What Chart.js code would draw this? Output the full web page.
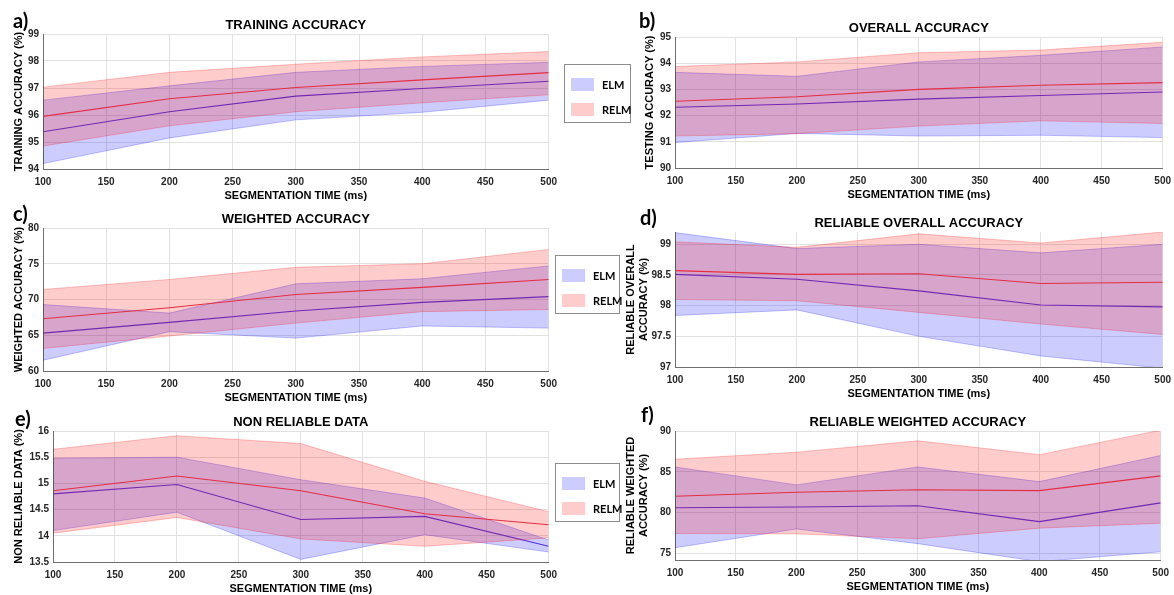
<!DOCTYPE html>
<html>
<head>
<meta charset="utf-8">
<title>ELM vs RELM</title>
<script src="https://cdn.jsdelivr.net/npm/chart.js@4.4.1/dist/chart.umd.min.js"></script>
<style>
    body { margin: 0; background: #fff; }
    .figure { position: relative; width: 1174px; height: 595px; overflow: hidden; }
    .figure canvas { position: absolute; }
    .panel-tag { position: absolute; font: 700 20px/20px Lato, "Open Sans", sans-serif; color: #000; }
    .custom-legend { position: absolute; box-sizing: border-box; background: #fff; border: 1px solid #8c8c8c; z-index: 2; }
    .custom-legend__item { position: absolute; left: 6px; display: flex; align-items: center; height: 14px; }
    .custom-legend__swatch { width: 23px; height: 13px; margin-right: 8px; }
    .custom-legend__label { font: 700 11px Lato, sans-serif; color: #000; }
</style>
</head>
<body>
<div class="figure" id="figure"></div>
<script>
const SEG_TIME = [100, 200, 300, 400, 500];
const X_TICKS = [100, 150, 200, 250, 300, 350, 400, 450, 500];

// a) training accuracy
const TRAIN_ELM = [95.38, 96.12, 96.7, 96.98, 97.25];
const TRAIN_ELM_HI = [96.55, 97.08, 97.58, 97.8, 97.95];
const TRAIN_ELM_LO = [94.2, 95.15, 95.82, 96.1, 96.55];
const TRAIN_RELM = [95.95, 96.6, 97.02, 97.3, 97.57];
const TRAIN_RELM_HI = [97.03, 97.58, 97.88, 98.15, 98.35];
const TRAIN_RELM_LO = [94.85, 95.6, 96.12, 96.45, 96.75];
const TRAIN_TICKS = [94, 95, 96, 97, 98, 99];

// b) overall (testing) accuracy
const TEST_ELM = [92.32, 92.44, 92.63, 92.77, 92.9];
const TEST_ELM_HI = [93.65, 93.5, 94.05, 94.3, 94.62];
const TEST_ELM_LO = [90.97, 91.32, 91.22, 91.25, 91.16];
const TEST_RELM = [92.55, 92.72, 93.0, 93.16, 93.26];
const TEST_RELM_HI = [93.87, 94.05, 94.4, 94.5, 94.8];
const TEST_RELM_LO = [91.22, 91.31, 91.6, 91.8, 91.7];
const TEST_TICKS = [90, 91, 92, 93, 94, 95];

// c) weighted accuracy
const WEIGHT_ELM = [65.3, 66.8, 68.4, 69.6, 70.4];
const WEIGHT_ELM_HI = [69.3, 68.1, 72.2, 72.9, 74.7];
const WEIGHT_ELM_LO = [61.5, 65.5, 64.6, 66.3, 66.0];
const WEIGHT_RELM = [67.3, 68.85, 70.7, 71.7, 72.8];
const WEIGHT_RELM_HI = [71.4, 72.8, 74.5, 75.0, 77.0];
const WEIGHT_RELM_LO = [63.15, 64.9, 66.7, 68.3, 68.6];
const WEIGHT_TICKS = [60, 65, 70, 75, 80];

// d) reliable overall accuracy
const REL_OA_ELM = [98.51, 98.43, 98.24, 98.01, 97.98];
const REL_OA_ELM_HI = [99.19, 98.93, 99.0, 98.86, 99.0];
const REL_OA_ELM_LO = [97.84, 97.93, 97.5, 97.18, 96.98];
const REL_OA_RELM = [98.57, 98.51, 98.52, 98.36, 98.38];
const REL_OA_RELM_HI = [99.04, 98.95, 99.17, 99.02, 99.2];
const REL_OA_RELM_LO = [98.1, 98.08, 97.89, 97.7, 97.53];
const REL_OA_TICKS = [97, 97.5, 98, 98.5, 99];

// e) non reliable data
const NONREL_ELM = [14.8, 14.98, 14.31, 14.37, 13.8];
const NONREL_ELM_HI = [15.48, 15.5, 15.07, 14.72, 13.92];
const NONREL_ELM_LO = [14.1, 14.45, 13.55, 14.02, 13.69];
const NONREL_RELM = [14.86, 15.14, 14.86, 14.42, 14.21];
const NONREL_RELM_HI = [15.65, 15.91, 15.76, 15.04, 14.46];
const NONREL_RELM_LO = [14.05, 14.35, 13.94, 13.8, 13.96];
const NONREL_TICKS = [13.5, 14, 14.5, 15, 15.5, 16];

// f) reliable weighted accuracy
const REL_WA_ELM = [80.6, 80.7, 80.85, 78.9, 81.2];
const REL_WA_ELM_HI = [85.6, 83.4, 85.6, 83.8, 87.0];
const REL_WA_ELM_LO = [75.7, 78.0, 76.2, 74.0, 75.2];
const REL_WA_RELM = [82.0, 82.5, 82.8, 82.7, 84.5];
const REL_WA_RELM_HI = [86.54, 87.4, 88.8, 87.1, 90.1];
const REL_WA_RELM_LO = [77.45, 77.4, 76.8, 78.1, 78.7];
const REL_WA_TICKS = [75, 80, 85, 90];

const FONT = "'Liberation Sans', Arial, sans-serif";
const TITLE_H = 21;   // title block above plot area
const XAXIS_H = 34;   // tick labels + x title under plot area
const RIGHT_PAD = 15;

const ELM_LINE = "rgb(80,50,225)";
const ELM_FILL = "rgba(0,0,255,0.2)";
const ELM_EDGE = "rgba(0,0,255,0.3)";
const RELM_LINE = "rgb(230,45,65)";
const RELM_FILL = "rgba(255,0,0,0.2)";
const RELM_EDGE = "rgba(255,0,0,0.3)";
const GRID = "#e1e1e1";
const AXIS = "#6e6e6e";
const TICK = "#262626";

const panels = [
    { tag: "a)", title: "TRAINING ACCURACY", yTitle: "TRAINING ACCURACY (%)", yMin: 94, yMax: 99, yTicks: TRAIN_TICKS,
      elm: [TRAIN_ELM, TRAIN_ELM_HI, TRAIN_ELM_LO], relm: [TRAIN_RELM, TRAIN_RELM_HI, TRAIN_RELM_LO],
      area: { left: 43, right: 549, top: 34, bottom: 169 }, canvasLeft: 0, yTitlePad: 12, tagPos: [13, 10] },
    { tag: "b)", title: "OVERALL ACCURACY", yTitle: "TESTING ACCURACY (%)", yMin: 90, yMax: 95, yTicks: TEST_TICKS,
      elm: [TEST_ELM, TEST_ELM_HI, TEST_ELM_LO], relm: [TEST_RELM, TEST_RELM_HI, TEST_RELM_LO],
      area: { left: 675, right: 1163, top: 37, bottom: 168 }, canvasLeft: 620, yTitlePad: 23, tagPos: [639, 10] },
    { tag: "c)", title: "WEIGHTED ACCURACY", yTitle: "WEIGHTED ACCURACY (%)", yMin: 60, yMax: 80, yTicks: WEIGHT_TICKS,
      elm: [WEIGHT_ELM, WEIGHT_ELM_HI, WEIGHT_ELM_LO], relm: [WEIGHT_RELM, WEIGHT_RELM_HI, WEIGHT_RELM_LO],
      area: { left: 43, right: 549, top: 228, bottom: 371 }, canvasLeft: 0, yTitlePad: 12, tagPos: [13, 203] },
    { tag: "d)", title: "RELIABLE OVERALL ACCURACY", yTitle: ["RELIABLE OVERALL", "ACCURACY (%)"], yMin: 97, yMax: 99.2, yTicks: REL_OA_TICKS,
      elm: [REL_OA_ELM, REL_OA_ELM_HI, REL_OA_ELM_LO], relm: [REL_OA_RELM, REL_OA_RELM_HI, REL_OA_RELM_LO],
      area: { left: 675, right: 1163, top: 232, bottom: 367 }, canvasLeft: 620, yTitlePad: 4.5, tagPos: [640, 207] },
    { tag: "e)", title: "NON RELIABLE DATA", yTitle: "NON RELIABLE DATA (%)", yMin: 13.5, yMax: 16, yTicks: NONREL_TICKS,
      elm: [NONREL_ELM, NONREL_ELM_HI, NONREL_ELM_LO], relm: [NONREL_RELM, NONREL_RELM_HI, NONREL_RELM_LO],
      area: { left: 53, right: 549, top: 431, bottom: 562 }, canvasLeft: 0, yTitlePad: 12, tagPos: [15, 408] },
    { tag: "f)", title: "RELIABLE WEIGHTED ACCURACY", yTitle: ["RELIABLE WEIGHTED", "ACCURACY (%)"], yMin: 74.2, yMax: 90, yTicks: REL_WA_TICKS,
      elm: [REL_WA_ELM, REL_WA_ELM_HI, REL_WA_ELM_LO], relm: [REL_WA_RELM, REL_WA_RELM_HI, REL_WA_RELM_LO],
      area: { left: 675, right: 1161, top: 431, bottom: 560 }, canvasLeft: 620, yTitlePad: 4.5, tagPos: [641, 404] },
];

// legend boxes sit between the two columns
const legends = [
    { left: 564, top: 64, width: 67 },
    { left: 555, top: 255, width: 65 },
    { left: 555, top: 463, width: 65 },
];

function toPoints(values) {
    return SEG_TIME.map((x, i) => ({ x: x, y: values[i] }));
}

function fixedTicks(values) {
    return function (scale) {
        scale.ticks = values.map((v) => ({ value: v }));
    };
}

function createBandChart(fig, p) {
    const top = p.area.top - TITLE_H;
    const width = p.area.right + RIGHT_PAD - p.canvasLeft;
    const height = p.area.bottom + XAXIS_H - top;
    const yWidth = p.area.left - p.canvasLeft;

    const canvas = document.createElement("canvas");
    canvas.width = width;
    canvas.height = height;
    canvas.style.left = p.canvasLeft + "px";
    canvas.style.top = top + "px";
    canvas.style.width = width + "px";
    canvas.style.height = height + "px";
    fig.appendChild(canvas);

    const tickFont = { family: FONT, size: 10, weight: "bold" };
    const labelFont = { family: FONT, size: 11, weight: "bold", lineHeight: Array.isArray(p.yTitle) ? "13px" : "14px" };

    return new Chart(canvas.getContext("2d"), {
        type: "line",
        data: {
            datasets: [
                // lower "order" is painted on top
                { label: "RELM", data: toPoints(p.relm[0]), borderColor: RELM_LINE, borderWidth: 1.1, order: 1 },
                { label: "RELM upper", data: toPoints(p.relm[1]), borderColor: RELM_EDGE, borderWidth: 0.8, backgroundColor: RELM_FILL, fill: "+1", order: 2 },
                { label: "RELM lower", data: toPoints(p.relm[2]), borderColor: RELM_EDGE, borderWidth: 0.8, order: 2 },
                { label: "ELM", data: toPoints(p.elm[0]), borderColor: ELM_LINE, borderWidth: 1.1, order: 3 },
                { label: "ELM upper", data: toPoints(p.elm[1]), borderColor: ELM_EDGE, borderWidth: 0.8, backgroundColor: ELM_FILL, fill: "+1", order: 4 },
                { label: "ELM lower", data: toPoints(p.elm[2]), borderColor: ELM_EDGE, borderWidth: 0.8, order: 4 },
            ],
        },
        options: {
            responsive: false,
            animation: false,
            devicePixelRatio: 1,
            layout: { padding: { left: 0, right: RIGHT_PAD, top: 0, bottom: 0 } },
            elements: { point: { radius: 0 }, line: { tension: 0 } },
            plugins: {
                legend: { display: false },
                tooltip: { enabled: false },
                title: {
                    display: true,
                    text: p.title,
                    fullSize: false,
                    color: "#000",
                    font: { family: FONT, size: 13, weight: "bold", lineHeight: "16px" },
                    padding: { top: 4, bottom: 1 },
                },
            },
            scales: {
                x: {
                    type: "linear",
                    min: 100,
                    max: 500,
                    afterBuildTicks: fixedTicks(X_TICKS),
                    afterFit: (scale) => { scale.height = XAXIS_H; },
                    grid: { color: GRID, drawTicks: false },
                    border: { color: AXIS, width: 1 },
                    ticks: { padding: 7, color: TICK, font: tickFont, maxRotation: 0, autoSkip: false, callback: (v) => String(v) },
                    title: { display: true, text: "SEGMENTATION TIME (ms)", color: "#000", font: { family: FONT, size: 11, weight: "bold", lineHeight: "14px" }, padding: { top: 0, bottom: 0 } },
                },
                y: {
                    min: p.yMin,
                    max: p.yMax,
                    afterBuildTicks: fixedTicks(p.yTicks),
                    afterFit: (scale) => { scale.width = yWidth; },
                    grid: { color: GRID, drawTicks: false },
                    border: { color: AXIS, width: 1 },
                    ticks: { padding: 4, color: TICK, font: tickFont, autoSkip: false, callback: (v) => String(v) },
                    title: { display: true, text: p.yTitle, color: "#000", font: labelFont, padding: { top: p.yTitlePad, bottom: 0 } },
                },
            },
        },
    });
}

function createLegend(fig, box) {
    const el = document.createElement("div");
    el.className = "custom-legend";
    el.style.left = box.left + "px";
    el.style.top = box.top + "px";
    el.style.width = box.width + "px";
    el.style.height = "59px";

    [["ELM", ELM_FILL, 12], ["RELM", RELM_FILL, 37]].forEach(([name, fill, y]) => {
        const item = document.createElement("div");
        item.className = "custom-legend__item";
        item.style.top = y + "px";

        const swatch = document.createElement("span");
        swatch.className = "custom-legend__swatch";
        swatch.style.backgroundColor = fill;

        const label = document.createElement("span");
        label.className = "custom-legend__label";
        label.textContent = name;

        item.appendChild(swatch);
        item.appendChild(label);
        el.appendChild(item);
    });

    fig.appendChild(el);
}

document.addEventListener("DOMContentLoaded", function () {
    const fig = document.getElementById("figure");

    panels.forEach((p) => {
        createBandChart(fig, p);

        const tag = document.createElement("div");
        tag.className = "panel-tag";
        tag.textContent = p.tag;
        tag.style.left = p.tagPos[0] + "px";
        tag.style.top = p.tagPos[1] + "px";
        fig.appendChild(tag);
    });

    legends.forEach((box) => createLegend(fig, box));
});
</script>
</body>
</html>
